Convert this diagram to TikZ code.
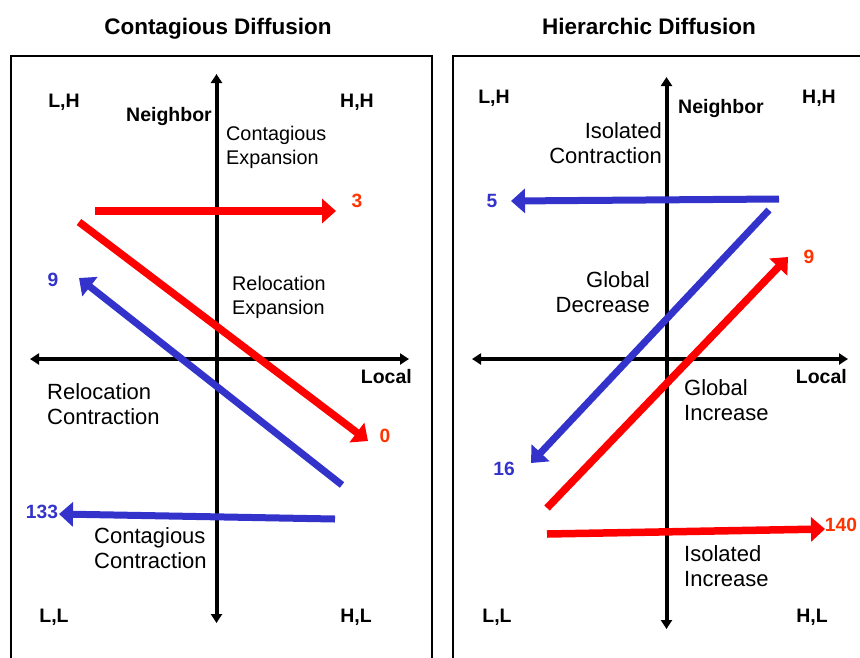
\documentclass[tikz,border=0pt]{standalone}
\usepackage{fontspec}
\setmainfont{Liberation Sans}
\usetikzlibrary{arrows.meta}
\definecolor{arrred}{HTML}{FF0000}
\definecolor{numred}{HTML}{FF3300}
\definecolor{arrblue}{HTML}{3333CC}
\tikzset{
  ttl/.style={font=\fontsize{22.5}{26}\selectfont\bfseries, inner sep=0pt, anchor=base},
  lbl/.style={font=\fontsize{19.5}{24}\selectfont\bfseries, inner sep=0pt, anchor=base},
  txt/.style={font=\fontsize{19.8}{24}\selectfont, inner sep=0pt},
  txtbig/.style={font=\fontsize{22}{25.5}\selectfont, inner sep=0pt},
  numr/.style={font=\fontsize{19.2}{23}\selectfont\bfseries, text=numred, inner sep=0pt},
  numb/.style={font=\fontsize{19.2}{23}\selectfont\bfseries, text=arrblue, inner sep=0pt},
  panel/.style={line width=2pt, black},
  axis/.style={line width=4pt, {Triangle[length=9pt,width=11pt]}-{Triangle[length=9pt,width=11pt]}},
  redarr/.style={line width=7.5pt, arrred, -{Triangle[length=14pt,width=24pt]}},
  bluearr/.style={line width=7pt, arrblue, -{Triangle[length=14pt,width=24pt]}},
}
\begin{document}
\begin{tikzpicture}[x=1pt,y=-1pt]
\useasboundingbox (0,0) rectangle (860,657);
\clip (0,0) rectangle (860,657);
\fill[white] (0,0) rectangle (860,657);

% ---------- Left panel ----------
\node[ttl] (t1) at (218,34) {Contagious Diffusion};
\draw[panel] (11,700) -- (11,56) -- (432,56) -- (432,700);

\coordinate (lvt) at (216.5,74);
\coordinate (lvb) at (216.5,623);
\coordinate (lhl) at (30,359);
\coordinate (lhr) at (409,359);
\draw[axis] (lvb) -- (lvt);
\draw[axis] (lhl) -- (lhr);

\node[lbl] (lLH) at (64,107) {L,H};
\node[lbl] (lHH) at (357,107) {H,H};
\node[lbl] (lLL) at (54,622) {L,L};
\node[lbl] (lHL) at (356,622) {H,L};
\node[lbl,anchor=base east] (lnb) at (212,121) {Neighbor};
\node[lbl,anchor=base east] (llo) at (412,383) {Local};

\node[txt,anchor=west,align=left] (lce) at (226,147) {Contagious\\Expansion};
\node[txt,anchor=west,align=left] (lre) at (232,297) {Relocation\\Expansion};
\node[txtbig,anchor=west,align=left] (lrc) at (47,404) {Relocation\\Contraction};
\node[txtbig,anchor=west,align=left] (lcc) at (94,548) {Contagious\\Contraction};

% arrows
\coordinate (a1s) at (95,211);
\coordinate (a1e) at (336,211);
\draw[redarr] (a1s) -- (a1e);
\node[numr] (n3) at (357,201) {3};

\coordinate (a2s) at (79,222);
\coordinate (a2e) at (368,441);
\draw[redarr] (a2s) -- (a2e);
\node[numr] (n0) at (385,436) {0};

\coordinate (a3s) at (342,485);
\coordinate (a3e) at (79,278);
\draw[bluearr] (a3s) -- (a3e);
\node[numb] (n9) at (53,280) {9};

\coordinate (a4s) at (335,519);
\coordinate (a4e) at (59,514);
\draw[bluearr] (a4s) -- (a4e);
\node[numb] (n133) at (42,512) {133};

% ---------- Right panel ----------
\node[ttl] (t2) at (649,34) {Hierarchic Diffusion};
\draw[panel] (453,700) -- (453,56) -- (870,56);

\coordinate (rvt) at (666.5,77);
\coordinate (rvb) at (666.5,629);
\coordinate (rhl) at (472,359);
\coordinate (rhr) at (848,359);
\draw[axis] (rvb) -- (rvt);
\draw[axis] (rhl) -- (rhr);

\node[lbl] (rLH) at (494,103) {L,H};
\node[lbl] (rHH) at (819,103) {H,H};
\node[lbl] (rLL) at (497,622) {L,L};
\node[lbl] (rHL) at (812,622) {H,L};
\node[lbl,anchor=base west] (rnb) at (678,113) {Neighbor};
\node[lbl,anchor=base east] (rlo) at (847,383) {Local};

\node[txtbig,anchor=east,align=right] (ric) at (662,143) {Isolated\\Contraction};
\node[txtbig,anchor=east,align=right] (rgd) at (650,292) {Global\\Decrease};
\node[txtbig,anchor=west,align=left] (rgi) at (684,400) {Global\\Increase};
\node[txtbig,anchor=west,align=left] (rii) at (684,566) {Isolated\\Increase};

\coordinate (b1s) at (779,199);
\coordinate (b1e) at (511,201);
\draw[bluearr] (b1s) -- (b1e);
\node[numb] (n5) at (492,201) {5};

\coordinate (b2s) at (769,210);
\coordinate (b2e) at (531,463);
\draw[bluearr] (b2s) -- (b2e);
\node[numb] (n16) at (504,469) {16};

\coordinate (b3s) at (547,508);
\coordinate (b3e) at (788,257);
\draw[redarr] (b3s) -- (b3e);
\node[numr] (n9r) at (809,257) {9};

\coordinate (b4s) at (547,534);
\coordinate (b4e) at (825,529);
\draw[redarr] (b4s) -- (b4e);
\node[numr] (n140) at (841,525) {140};
\end{tikzpicture}
\end{document}
